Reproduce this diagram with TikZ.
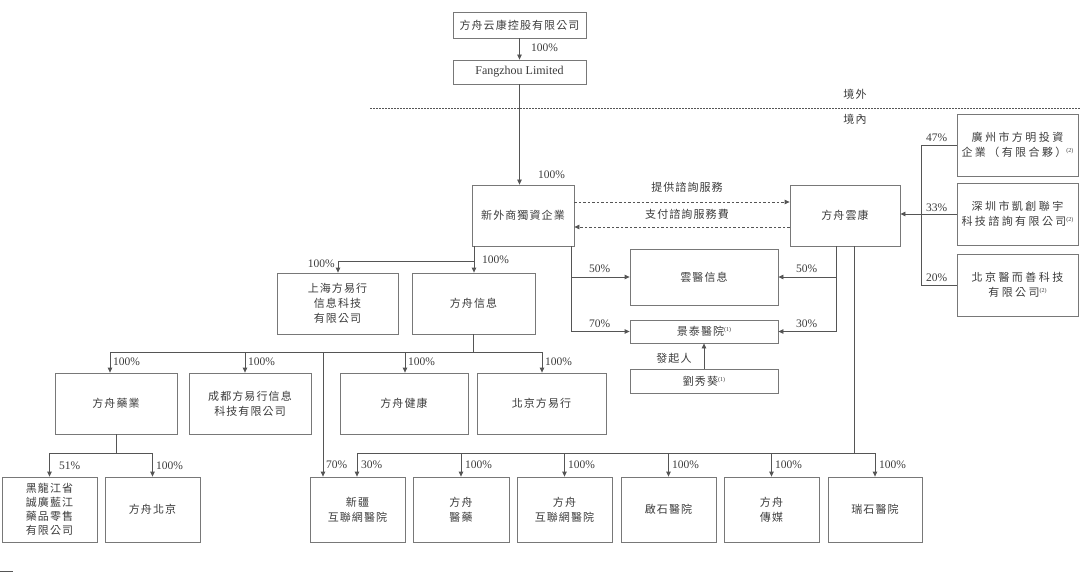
\documentclass[tikz,border=0pt]{standalone}
\usepackage{fontspec}
\setmainfont{Liberation Serif}
\newfontfamily\cjk{Noto Sans CJK TC}[LetterSpace=10]
\usetikzlibrary{arrows.meta}
\definecolor{boxc}{RGB}{120,120,120}
\definecolor{linec}{RGB}{85,85,85}
\definecolor{txtc}{RGB}{60,60,60}
\newcommand\fn[1]{{\rmfamily\fontsize{6}{6}\selectfont\raisebox{4pt}{(#1)}}}
\newcommand\bx[6]{\node[box, minimum width={#4-#2}, minimum height={#5-#3}] (#1) at ({(#2+#4)/2},{(#3+#5)/2}) {#6};}
\begin{document}
\begin{tikzpicture}[x=1pt,y=-1pt,
  box/.style={draw=boxc, line width=0.8pt, inner sep=0pt, align=center, text=txtc,
    font=\cjk\fontsize{11}{15}\selectfont},
  ln/.style={draw=linec, line width=0.8pt},
  arr/.style={-{Triangle[length=5pt,width=4.5pt]}},
  pct/.style={inner sep=0pt, text=txtc, font=\rmfamily\fontsize{11.5}{12}\selectfont},
  lbl/.style={inner sep=0pt, text=txtc, font=\cjk\fontsize{11}{13}\selectfont},
  dsh/.style={dash pattern=on 2.5pt off 2pt}]
\useasboundingbox[fill=white] (0,0) rectangle (1080,575);

% boxes
\bx{top}{453}{12}{586}{38}{方舟云康控股有限公司}
\node[box, minimum width=133, minimum height=24, font=\rmfamily\fontsize{12}{14}\selectfont] (fz) at (519.5,72) {Fangzhou Limited};
\bx{wfoe}{472}{185}{574}{246}{新外商獨資企業}
\bx{yk}{790}{185}{900}{246}{方舟雲康}
\bx{yyxx}{630}{249}{778}{305}{雲醫信息}
\bx{jt}{630}{320}{778}{343}{景泰醫院\fn{1}}
\bx{lxk}{630}{369}{778}{393}{劉秀葵\fn{1}}
\bx{gz}{957}{114}{1078}{176}{\addfontfeatures{LetterSpace=22}廣州市方明投資\\\addfontfeatures{LetterSpace=22}企業（有限合夥）\fn{2}}
\bx{sz}{957}{183}{1078}{245}{\addfontfeatures{LetterSpace=22}深圳市凱創聯宇\\\addfontfeatures{LetterSpace=22}科技諮詢有限公司\fn{2}}
\bx{bj}{957}{254}{1078}{316}{\addfontfeatures{LetterSpace=22}北京醫而善科技\\\addfontfeatures{LetterSpace=22}有限公司\fn{2}}
\bx{sh}{277}{273}{398}{334}{上海方易行\\信息科技\\有限公司}
\bx{fzxx}{412}{273}{535}{334}{方舟信息}
\bx{fzyy}{55}{373}{177}{434}{方舟藥業}
\bx{cd}{189}{373}{311}{434}{成都方易行信息\\科技有限公司}
\bx{fzjk}{340}{373}{468}{434}{方舟健康}
\bx{bjfyh}{477}{373}{606}{434}{北京方易行}
\node[box, minimum width=95, minimum height=65, font=\cjk\fontsize{11}{14}\selectfont] (hlj) at (49.5,509.5) {黑龍江省\\誠廣藍江\\藥品零售\\有限公司};
\bx{fzbj}{105}{477}{200}{542}{方舟北京}
\bx{xj}{310}{477}{405}{542}{新疆\\互聯網醫院}
\bx{fzyiyao}{413}{477}{509}{542}{方舟\\醫藥}
\bx{fzhlw}{517}{477}{612}{542}{方舟\\互聯網醫院}
\bx{qs}{621}{477}{716}{542}{啟石醫院}
\bx{fzcm}{724}{477}{819}{542}{方舟\\傳媒}
\bx{rs}{828}{477}{922}{542}{瑞石醫院}

% offshore / onshore
\coordinate (bl) at (370,108);
\coordinate (br) at (1080,108);
\draw[draw=linec, line width=0.8pt, dash pattern=on 1.5pt off 1.5pt] (bl) -- (br);
\node[lbl] (jw) at (855,94) {境外};
\node[lbl] (jn) at (855,119) {境內};

% top chain
\draw[ln,arr] (top.south) -- (fz.north);
\node[pct,anchor=west] (p0) at (531,48) {100\%};
\draw[ln,arr] (fz.south) -- (fz.south |- wfoe.north);
\node[pct,anchor=west] (p1) at (538,175) {100\%};

% service arrows
\coordinate (d1) at (0,202);
\coordinate (d2) at (0,227);
\draw[ln,dsh,arr] (wfoe.east |- d1) -- (yk.west |- d1);
\draw[ln,dsh,arr] (yk.west |- d2) -- (wfoe.east |- d2);
\node[lbl] (s1l) at (687,187) {提供諮詢服務};
\node[lbl] (s2l) at (687,214) {支付諮詢服務費};

% wfoe right branch
\coordinate (wr1) at (571,277);
\coordinate (wr2) at (571,331.5);
\draw[ln] (wr1 |- wfoe.south) -- (wr2);
\draw[ln,arr] (wr1) -- (wr1 -| yyxx.west);
\draw[ln,arr] (wr2) -- (wr2 -| jt.west);
\node[pct,anchor=west] (p2) at (589,269) {50\%};
\node[pct,anchor=west] (p3) at (589,324) {70\%};

% yk branch
\coordinate (kr1) at (836,277);
\coordinate (kr2) at (836,331.5);
\draw[ln] (kr1 |- yk.south) -- (kr2);
\draw[ln,arr] (kr1) -- (kr1 -| yyxx.east);
\draw[ln,arr] (kr2) -- (kr2 -| jt.east);
\node[pct,anchor=west] (p4) at (796,269) {50\%};
\node[pct,anchor=west] (p5) at (796,324) {30\%};

% founder
\draw[ln,arr] (lxk.north) -- (jt.south);
\node[lbl] (fq) at (674,358) {發起人};

% shareholders
\coordinate (h1) at (921,145);
\coordinate (h3) at (921,285);
\draw[ln] (h1 -| gz.west) -- (h1) -- (h3) -- (h3 -| bj.west);
\draw[ln,arr] (sz.west) -- (sz.west -| yk.east);
\node[pct,anchor=west] (p6) at (926,138) {47\%};
\node[pct,anchor=west] (p7) at (926,208) {33\%};
\node[pct,anchor=west] (p8) at (926,278) {20\%};

% wfoe left branch
\coordinate (wl) at (474,261);
\coordinate (shj) at (338,261);
\draw[ln,arr] (wl |- wfoe.south) -- (wl |- fzxx.north);
\draw[ln,arr] (wl) -- (shj) -- (shj |- sh.north);
\node[pct,anchor=east] (p9) at (335,264) {100\%};
\node[pct,anchor=west] (p10) at (482,260) {100\%};

% fzxx subsidiaries
\coordinate (ra) at (110,352);
\coordinate (rb) at (245,352);
\coordinate (rx) at (323,352);
\coordinate (rc) at (405,352);
\coordinate (rd) at (542,352);
\draw[ln] (fzxx.south) -- (fzxx.south |- ra);
\draw[ln] (ra) -- (rd);
\draw[ln,arr] (ra) -- (ra |- fzyy.north);
\draw[ln,arr] (rb) -- (rb |- cd.north);
\draw[ln,arr] (rc) -- (rc |- fzjk.north);
\draw[ln,arr] (rd) -- (rd |- bjfyh.north);
\draw[ln,arr] (rx) -- (rx |- xj.north);
\node[pct,anchor=west] (p11) at (113,362) {100\%};
\node[pct,anchor=west] (p12) at (248,362) {100\%};
\node[pct,anchor=west] (p13) at (408,362) {100\%};
\node[pct,anchor=west] (p14) at (545,362) {100\%};

% fzyy subsidiaries
\coordinate (ta) at (49.5,453);
\coordinate (tb) at (152.5,453);
\draw[ln] (fzyy.south) -- (fzyy.south |- ta);
\draw[ln] (ta) -- (tb);
\draw[ln,arr] (ta) -- (ta |- hlj.north);
\draw[ln,arr] (tb) -- (tb |- fzbj.north);
\node[pct,anchor=west] (p15) at (59,466) {51\%};
\node[pct,anchor=west] (p16) at (156,466) {100\%};

% yk subsidiaries
\coordinate (yb) at (854,453);
\coordinate (ua) at (357,453);
\coordinate (ub) at (461,453);
\coordinate (uc) at (564.5,453);
\coordinate (ud) at (668.5,453);
\coordinate (ue) at (771.5,453);
\coordinate (uf) at (875,453);
\draw[ln] (yb |- yk.south) -- (yb);
\draw[ln] (ua) -- (uf);
\draw[ln,arr] (ua) -- (ua |- xj.north);
\draw[ln,arr] (ub) -- (ub |- fzyiyao.north);
\draw[ln,arr] (uc) -- (uc |- fzhlw.north);
\draw[ln,arr] (ud) -- (ud |- qs.north);
\draw[ln,arr] (ue) -- (ue |- fzcm.north);
\draw[ln,arr] (uf) -- (uf |- rs.north);
\node[pct,anchor=west] (p17) at (326,465) {70\%};
\node[pct,anchor=west] (p18) at (361,465) {30\%};
\node[pct,anchor=west] (p19) at (465,465) {100\%};
\node[pct,anchor=west] (p20) at (568,465) {100\%};
\node[pct,anchor=west] (p21) at (672,465) {100\%};
\node[pct,anchor=west] (p22) at (775,465) {100\%};
\node[pct,anchor=west] (p23) at (879,465) {100\%};

% footnote rule
\coordinate (fa) at (0,571);
\coordinate (fb) at (13,571);
\draw[draw=linec, line width=0.8pt] (fa) -- (fb);
\end{tikzpicture}
\end{document}
